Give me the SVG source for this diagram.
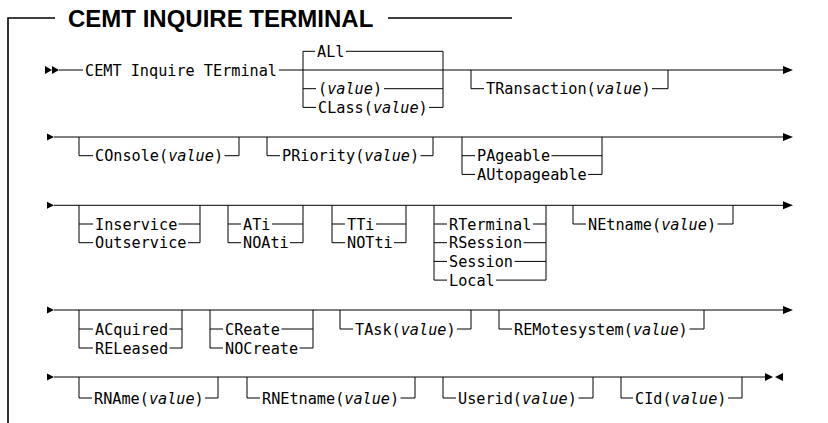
<svg xmlns="http://www.w3.org/2000/svg" width="828" height="423" viewBox="0 0 828 423">
<style>
.ln{stroke:#000;stroke-width:1;fill:none}
.fr{stroke:#000;stroke-width:1.6;fill:none}
.t{font-family:"DejaVu Sans Mono","Liberation Mono",monospace;font-size:15.2px;fill:#000}
.v{font-style:italic}
.ttl{font-family:"Liberation Sans",Arial,sans-serif;font-weight:bold;font-size:24px;fill:#000}
.ah{fill:#000}
</style>
<rect width="828" height="423" fill="#fff"/>
<g id="frame">
<path class="fr" d="M55 18 H8 V423 M388 18 H512"/>
<text class="ttl" x="68" y="27">CEMT INQUIRE TERMINAL</text>
</g>
<g id="connectors">
<polygon class="ah" points="45,66 52,70 45,74"/>
<polygon class="ah" points="52,66 59,70 52,74"/>
<path class="ln" d="M59 70 H83 M279 70 H784"/>
<polygon class="ah" points="783,66 793,70 783,74"/>
<polygon class="ah" points="47,133.5 54,137 47,140.5"/>
<path class="ln" d="M54 137 H784"/>
<polygon class="ah" points="783,133 793,137 783,141"/>
<polygon class="ah" points="47,201.8 54,205.3 47,208.8"/>
<path class="ln" d="M54 205.3 H784"/>
<polygon class="ah" points="783,201.3 793,205.3 783,209.3"/>
<polygon class="ah" points="47,306.5 54,310 47,313.5"/>
<path class="ln" d="M54 310 H784"/>
<polygon class="ah" points="783,306 793,310 783,314"/>
<polygon class="ah" points="47,373.5 54,377 47,380.5"/>
<path class="ln" d="M54 377 H765"/>
<polygon class="ah" points="765,373 773,377 765,381"/>
<polygon class="ah" points="783,373 775,377 783,381"/>
</g>
<g id="cmd"><text class="t" x="85" y="75.5">CEMT Inquire TErminal</text></g>
<g id="all">
<path class="ln" d="M303 51.3 V107.4 M443 51.3 V107.4 M303 51.3 H315 M346 51.3 H443 M303 88.7 H316 M384 88.7 H443 M303 107.4 H316 M429 107.4 H443"/>
<text class="t" x="317" y="56.8">ALl</text>
<text class="t" x="318" y="94.2">(<tspan class="v">value</tspan>)</text>
<text class="t" x="318" y="112.9">CLass(<tspan class="v">value</tspan>)</text>
</g>
<g id="transaction">
<path class="ln" d="M471 70 V88.7 H484 M652 88.7 H668 V70"/>
<text class="t" x="486" y="94.2">TRansaction(<tspan class="v">value</tspan>)</text>
</g>
<g id="console">
<path class="ln" d="M79 137 V155.7 H93 M224.5 155.7 H239 V137"/>
<text class="t" x="95" y="161.2">COnsole(<tspan class="v">value</tspan>)</text>
</g>
<g id="priority">
<path class="ln" d="M267 137 V155.7 H280 M420.5 155.7 H433 V137"/>
<text class="t" x="282" y="161.2">PRiority(<tspan class="v">value</tspan>)</text>
</g>
<g id="pageable">
<path class="ln" d="M462 137 V174.4 M602 137 V174.4 M462 155.7 H475 M551.5 155.7 H602 M462 174.4 H475 M588 174.4 H602"/>
<text class="t" x="477" y="161.2">PAgeable</text>
<text class="t" x="477" y="179.9">AUtopageable</text>
</g>
<g id="inservice">
<path class="ln" d="M79 205.3 V242.7 M200 205.3 V242.7 M79 224 H93 M178.5 224 H200 M79 242.7 H93 M188 242.7 H200"/>
<text class="t" x="95" y="229.5">Inservice</text>
<text class="t" x="95" y="248.2">Outservice</text>
</g>
<g id="ati">
<path class="ln" d="M228 205.3 V242.7 M303 205.3 V242.7 M228 224 H241 M272 224 H303 M228 242.7 H241 M290 242.7 H303"/>
<text class="t" x="243" y="229.5">ATi</text>
<text class="t" x="243" y="248.2">NOAti</text>
</g>
<g id="tti">
<path class="ln" d="M332 205.3 V242.7 M406 205.3 V242.7 M332 224 H345 M376 224 H406 M332 242.7 H345 M394 242.7 H406"/>
<text class="t" x="347" y="229.5">TTi</text>
<text class="t" x="347" y="248.2">NOTti</text>
</g>
<g id="rterminal">
<path class="ln" d="M434 205.3 V280.1 M546 205.3 V280.1 M434 224 H447 M533 224 H546 M434 242.7 H447 M523.5 242.7 H546 M434 261.4 H447 M514.5 261.4 H546 M434 280.1 H447 M496 280.1 H546"/>
<text class="t" x="449" y="229.5">RTerminal</text>
<text class="t" x="449" y="248.2">RSession</text>
<text class="t" x="449" y="266.9">Session</text>
<text class="t" x="449" y="285.6">Local</text>
</g>
<g id="netname">
<path class="ln" d="M573 205.3 V224 H586 M717.5 224 H733 V205.3"/>
<text class="t" x="588" y="229.5">NEtname(<tspan class="v">value</tspan>)</text>
</g>
<g id="acquired">
<path class="ln" d="M79 310 V348 M182 310 V348 M79 329 H93 M169.5 329 H182 M79 348 H93 M169.5 348 H182"/>
<text class="t" x="95" y="334.5">ACquired</text>
<text class="t" x="95" y="353.5">RELeased</text>
</g>
<g id="create">
<path class="ln" d="M210 310 V348 M313 310 V348 M210 329 H223 M281.5 329 H313 M210 348 H223 M299.5 348 H313"/>
<text class="t" x="225" y="334.5">CReate</text>
<text class="t" x="225" y="353.5">NOCreate</text>
</g>
<g id="task">
<path class="ln" d="M340 310 V329 H353 M457 329 H471 V310"/>
<text class="t" x="355" y="334.5">TAsk(<tspan class="v">value</tspan>)</text>
</g>
<g id="remotesystem">
<path class="ln" d="M499 310 V329 H512 M689.5 329 H704 V310"/>
<text class="t" x="514" y="334.5">REMotesystem(<tspan class="v">value</tspan>)</text>
</g>
<g id="rname">
<path class="ln" d="M79 377 V398 H92 M205 398 H218 V377"/>
<text class="t" x="94" y="403.5">RNAme(<tspan class="v">value</tspan>)</text>
</g>
<g id="rnetname">
<path class="ln" d="M247 377 V398 H260 M400.5 398 H415 V377"/>
<text class="t" x="262" y="403.5">RNEtname(<tspan class="v">value</tspan>)</text>
</g>
<g id="userid">
<path class="ln" d="M443 377 V398 H456 M578.5 398 H593 V377"/>
<text class="t" x="458" y="403.5">Userid(<tspan class="v">value</tspan>)</text>
</g>
<g id="cid">
<path class="ln" d="M621 377 V398 H633 M728 398 H742 V377"/>
<text class="t" x="635" y="403.5">CId(<tspan class="v">value</tspan>)</text>
</g>
</svg>
